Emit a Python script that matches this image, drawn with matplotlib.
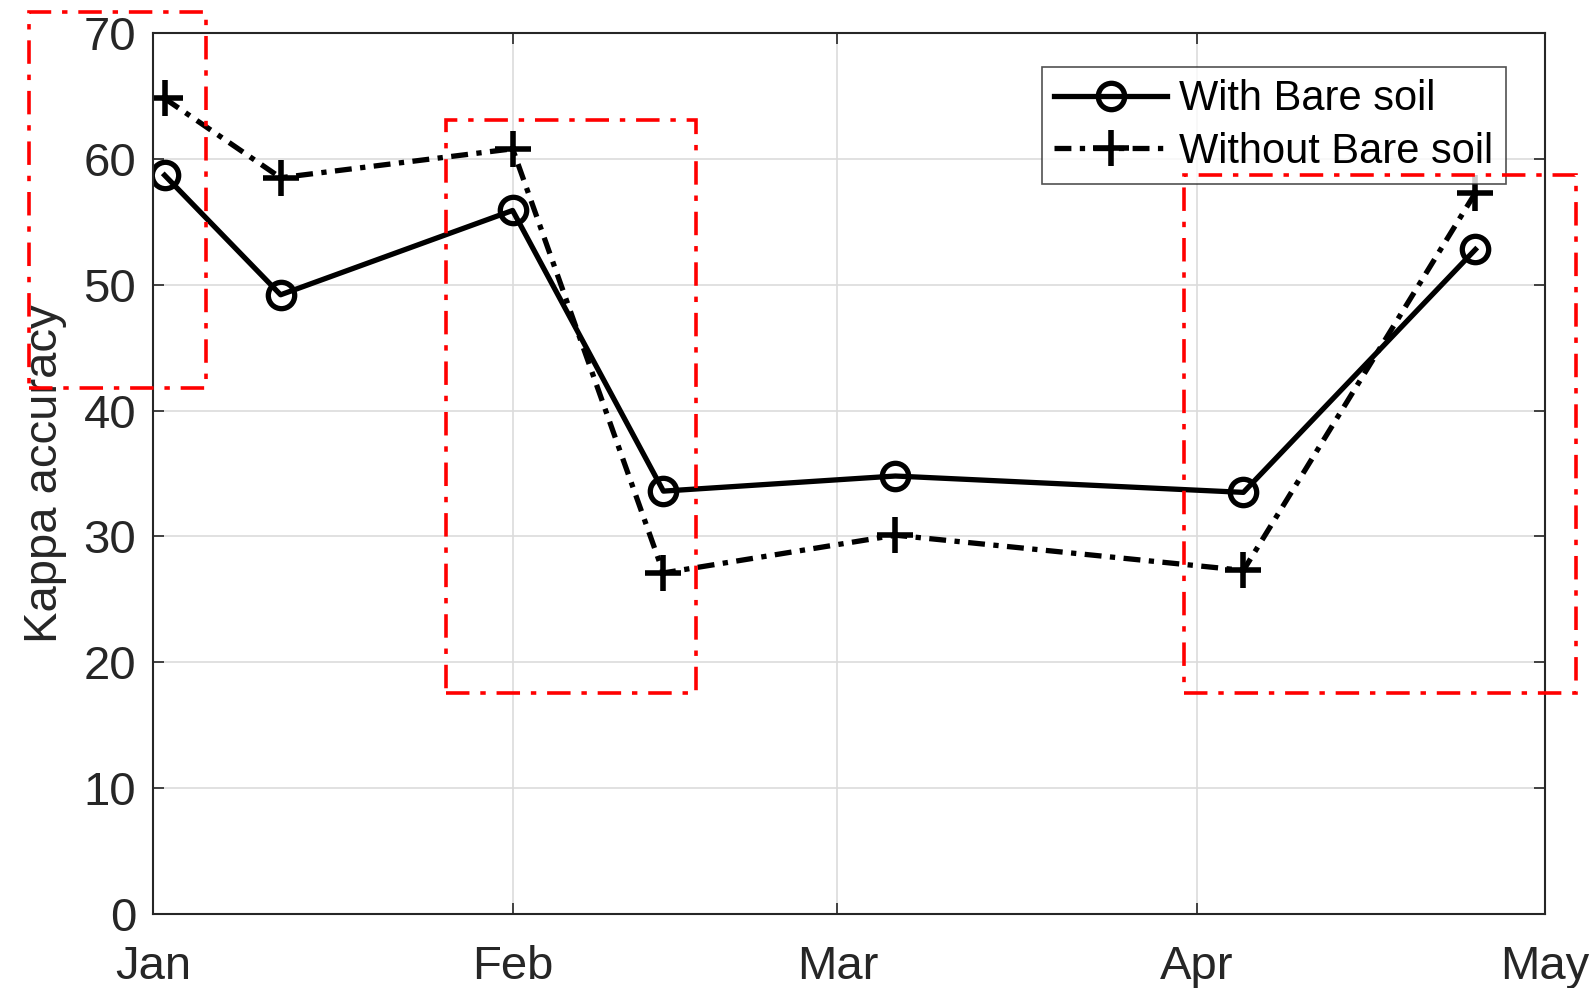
import numpy as np
import pandas as pd
import matplotlib
matplotlib.use('Agg')
from matplotlib import pyplot as plt
from matplotlib.patches import Rectangle

plt.rcParams['font.family'] = ['Liberation Sans', 'DejaVu Sans']

# dates of the images
dates = pd.to_datetime(['2019-01-02', '2019-01-12', '2019-02-01', '2019-02-14',
                        '2019-03-06', '2019-04-05', '2019-04-25'])
with_bare = [58.7, 49.2, 55.9, 33.6, 34.8, 33.5, 52.8]
without_bare = [64.8, 58.5, 60.8, 27.1, 30.1, 27.3, 57.3]
month_ticks = pd.to_datetime(['2019-01-01', '2019-02-01', '2019-03-01',
                              '2019-04-01', '2019-05-01'])
month_labels = ['Jan', 'Feb', 'Mar', 'Apr', 'May']
y_ticks = [0, 10, 20, 30, 40, 50, 60, 70]

W, H = 1596, 988
fig = plt.figure(figsize=(W / 100, H / 100), dpi=100)
ax = fig.add_axes([153 / W, 1 - 914 / H, (1545 - 153) / W, (914 - 33) / H])

dark = '#262626'
ax.plot(dates, with_bare, color='k', lw=3.8, ls='-', marker='o', ms=19,
        mfc='none', mec='k', mew=3.8, label='With Bare soil')
ax.plot(dates, without_bare, color='k', lw=3.8, ls=(0, (3.2, 1.6, 1, 1.6)),
        marker='+', ms=26, mec='k', mew=4, label='Without Bare soil')

ax.set_xlim(month_ticks[0], month_ticks[-1])
ax.set_ylim(0, 70)
ax.set_xticks(month_ticks)
ax.set_xticklabels(month_labels)
ax.set_yticks(y_ticks)
ax.grid(True, color='#dcdcdc', lw=1.2)
ax.set_axisbelow(True)
for s in ax.spines.values():
    s.set_color(dark)
    s.set_linewidth(1.5)
ax.tick_params(direction='in', length=8, width=1.2, colors=dark,
               top=True, right=True, labelsize=34)
ax.tick_params(axis='x', pad=22)
ax.tick_params(axis='y', pad=12)
ax.set_ylabel('Kappa accuracy', fontsize=34, color=dark, labelpad=12)

leg = ax.legend(loc='upper right', bbox_to_anchor=((1506 - 153) / (1545 - 153), (914 - 67) / (914 - 33)),
                fontsize=30, frameon=True, fancybox=False, borderpad=0.3,
                handlelength=2.7, handletextpad=0.3, labelspacing=0.3,
                borderaxespad=0)
leg.get_frame().set_edgecolor(dark)
leg.get_frame().set_linewidth(1.2)

# red dash-dot highlight boxes (figure pixel coords)
boxes = [(28.5, 12.2, 205.6, 387.8), (445.8, 120.1, 696.2, 693.2),
         (1183.8, 175.1, 1575.7, 693.2)]
for x0, y0, x1, y1 in boxes:
    fig.patches.append(Rectangle((x0 / W, 1 - y1 / H), (x1 - x0) / W, (y1 - y0) / H,
                                 transform=fig.transFigure, fill=False, ec='red',
                                 lw=2.6, ls=(0, (6.5, 3, 1.5, 3)), zorder=10))

fig.savefig('out.png', dpi=100)
